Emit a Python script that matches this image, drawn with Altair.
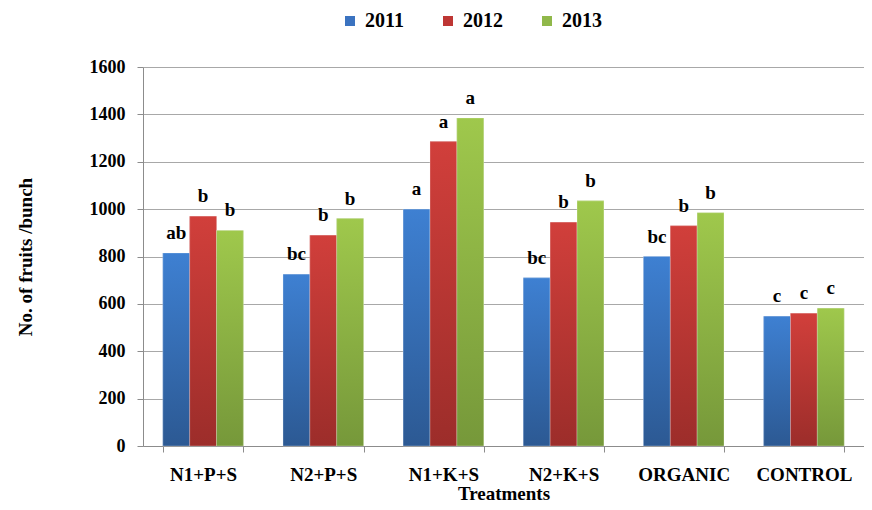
import altair as alt
import pandas as pd

treatments = ["N1+P+S", "N2+P+S", "N1+K+S", "N2+K+S", "ORGANIC", "CONTROL"]
years = ["2011", "2012", "2013"]
v2011 = [815, 725, 1000, 710, 800, 548]
v2012 = [970, 890, 1285, 945, 930, 560]
v2013 = [910, 960, 1385, 1035, 985, 582]
l2011 = ["ab", "bc", "a", "bc", "bc", "c"]
l2012 = ["b", "b", "a", "b", "b", "c"]
l2013 = ["b", "b", "a", "b", "b", "c"]

legend_colors = ["#3B73C0", "#BE3634", "#90B84A"]
grad_top = ["#3E80D2", "#D13F3B", "#9FC84C"]
grad_bot = ["#2C5993", "#9C2D2A", "#76983A"]

rows = []
for yr, vals, labs in zip(years, [v2011, v2012, v2013], [l2011, l2012, l2013]):
    for t, v, l in zip(treatments, vals, labs):
        rows.append({"treatment": t, "year": yr, "value": v, "letter": l})
df = pd.DataFrame(rows)

FONT = "Times New Roman, Liberation Serif, DejaVu Serif, serif"

x = alt.X(
    "treatment:N",
    sort=treatments,
    scale=alt.Scale(paddingInner=0.33, paddingOuter=0.165),
    axis=alt.Axis(
        title="Treatments",
        labelAngle=0,
        tickBand="extent",
        grid=False,
        labelPadding=13,
        titlePadding=0,
        labelFontSize=19,
        titleFontSize=19,
    ),
)
xo = alt.XOffset("year:N", sort=years,
                 scale=alt.Scale(domain=years, paddingInner=0, paddingOuter=0))
y = alt.Y(
    "value:Q",
    scale=alt.Scale(domain=[0, 1600], nice=False),
    axis=alt.Axis(
        values=list(range(0, 1601, 200)),
        format="d",
        title="No. of fruits /bunch",
        labelPadding=12,
        titlePadding=54,
        labelFontSize=18,
        titleFontSize=19,
        grid=True,
    ),
)

base = alt.Chart(df)

flat = base.mark_bar().encode(
    x=x,
    xOffset=xo,
    y=y,
    color=alt.Color(
        "year:N",
        scale=alt.Scale(domain=years, range=legend_colors),
        legend=alt.Legend(
            orient="none",
            legendX=197,
            legendY=-56,
            direction="horizontal",
            title=None,
            symbolType="square",
            symbolSize=100,
            symbolStrokeWidth=0,
            labelFont=FONT,
            labelFontSize=20,
            labelFontWeight="bold",
            labelColor="#000000",
            labelOffset=5,
            columnPadding=34,
        ),
    ),
)

layers = [flat]
for yr, top, bot in zip(years, grad_top, grad_bot):
    grad = {
        "gradient": "linear",
        "x1": 0, "x2": 0, "y1": 0, "y2": 1,
        "stops": [{"offset": 0, "color": top}, {"offset": 1, "color": bot}],
    }
    layers.append(
        base.transform_filter(alt.datum.year == yr)
        .mark_bar(color=grad, stroke="#ffffff", strokeOpacity=0.35, strokeWidth=0.8)
        .encode(x=x, xOffset=xo, y=y)
    )

text = base.mark_text(
    dy=-14, baseline="alphabetic", font=FONT, fontSize=19, fontWeight="bold", color="#000000"
).encode(x=x, xOffset=xo, y=y, text="letter:N")
layers.append(text)

chart = (
    alt.layer(*layers)
    .properties(
        width=721,
        height=379,
        autosize=alt.AutoSizeParams(type="none"),
        padding={"left": 135, "top": 59, "right": 0, "bottom": 62},
        background="#ffffff",
    )
    .configure_view(stroke=None)
    .configure_axis(
        labelFont=FONT,
        titleFont=FONT,
        labelFontWeight="bold",
        titleFontWeight="bold",
        labelColor="#000000",
        titleColor="#000000",
        domainColor="#8c8c8c",
        tickColor="#8c8c8c",
        gridColor="#a8a8a8",
        tickSize=6,
    )
)

chart.save("out.html", embed_options={"renderer": "svg", "actions": False})
